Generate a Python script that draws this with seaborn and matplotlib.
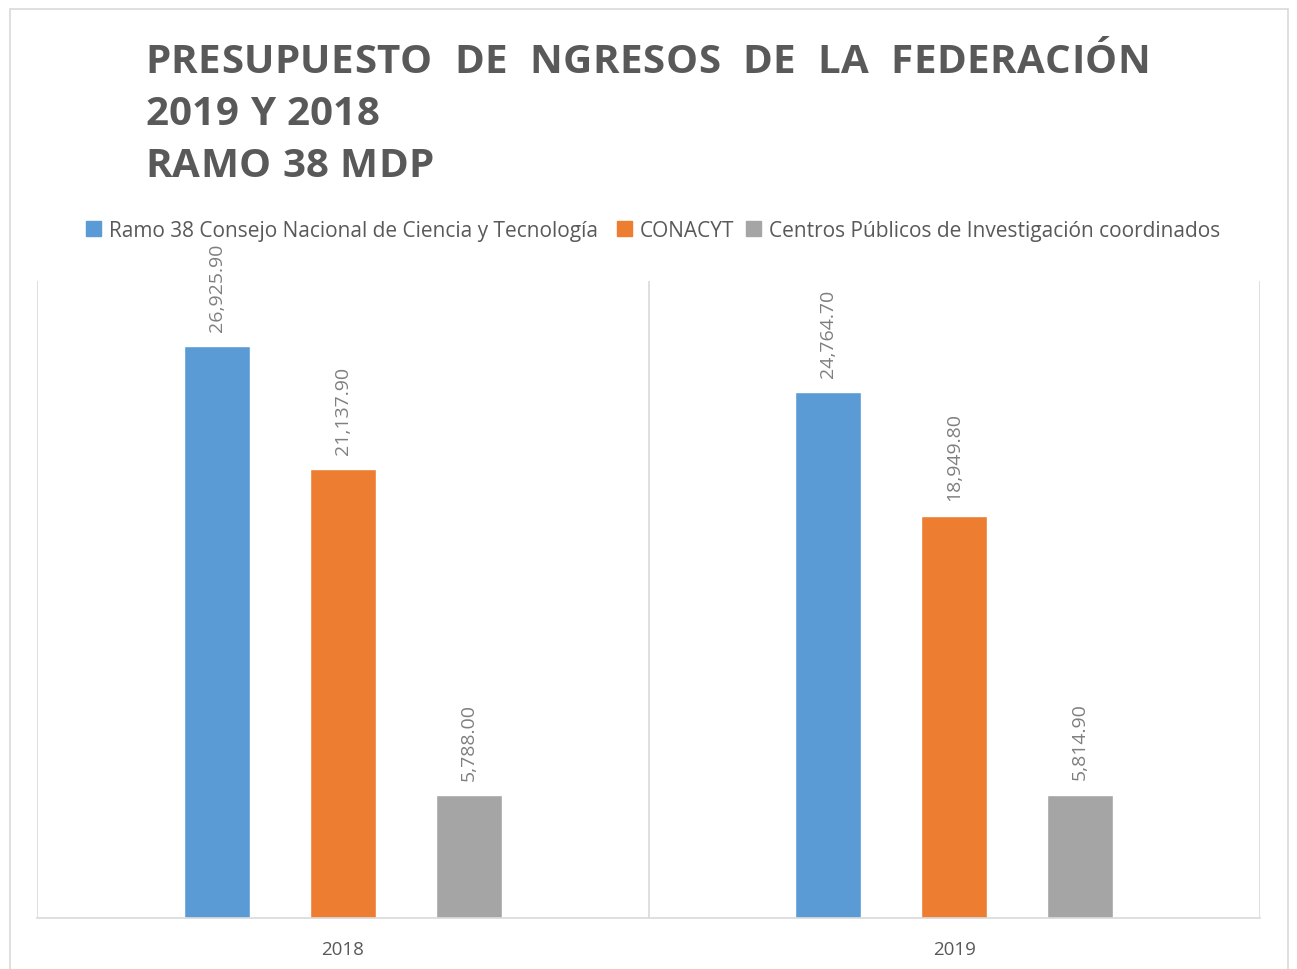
import numpy as np
import pandas as pd
import matplotlib.pyplot as plt
import seaborn as sns
from matplotlib.patches import Rectangle

# --- Data ---
years = ['2018', '2019']
series = ['Ramo 38 Consejo Nacional de Ciencia y Tecnología', 'CONACYT',
          'Centros Públicos de Investigación coordinados']
ramo38 = [26925.90, 24764.70]
conacyt = [21137.90, 18949.80]
centros = [5788.00, 5814.90]
colors = ['#5B9BD5', '#ED7D31', '#A5A5A5']
title_lines = ['PRESUPUESTO  DE  NGRESOS  DE  LA  FEDERACIÓN', '2019 Y 2018', 'RAMO 38 MDP']

df = pd.DataFrame({
    'year': years * 3,
    'serie': [series[0]] * 2 + [series[1]] * 2 + [series[2]] * 2,
    'valor': ramo38 + conacyt + centros,
})

W, H = 1297, 970
sns.set_style('white')
plt.rcParams['font.family'] = ['Open Sans', 'DejaVu Sans']

fig = plt.figure(figsize=(W / 100, H / 100), dpi=100)
ax = fig.add_axes([37 / W, 51 / H, 1223 / W, 637 / H])

sns.barplot(data=df, x='year', y='valor', hue='serie', hue_order=series,
            palette=colors, width=0.618, gap=0.476, saturation=1,
            errorbar=None, ax=ax, legend=False)

# --- Labels ---
for cont in ax.containers:
    ax.bar_label(cont, labels=[f'{v:,.2f}' for v in cont.datavalues],
                 rotation=90, padding=11, color='#7F7F7F', fontsize=14)

ax.set_ylim(0, 30000)
ax.set_xlim(-0.5, 1.5)
ax.set_xlabel('')
ax.set_ylabel('')
ax.set_yticks([])
ax.tick_params(axis='x', length=0, pad=16, labelsize=13.5, labelcolor='#595959')
for s in ['top', 'left', 'right']:
    ax.spines[s].set_visible(False)
ax.spines['bottom'].set_color('#D9D9D9')
ax.spines['bottom'].set_linewidth(1.2)
for xv in [-0.5, 0.5, 1.5]:
    ax.axvline(xv, color='#D9D9D9', lw=1.2, zorder=0)

# --- Legend: one entry each, anchored at the bottom so baselines line up ---
legend_x = [86, 617, 746]
for name, c, lx in zip(series, colors, legend_x):
    leg = fig.legend([Rectangle((0, 0), 1, 1, color=c)], [name], loc='lower left',
                     bbox_to_anchor=(lx / W, 1 - 242 / H), frameon=False,
                     fontsize=15, labelcolor='#595959', borderpad=0, borderaxespad=0,
                     handlelength=0.7, handleheight=0.7, handletextpad=0.4)

# --- Title (letter spaced, drawn char by char) ---
renderer = fig.canvas.get_renderer()
tkw = dict(fontsize=29, fontweight='bold', color='#595959')


def char_width(ch):
    if ch == ' ':
        a = fig.text(0, 0, 'x x', **tkw)
        b = fig.text(0, 0, 'xx', **tkw)
        w = a.get_window_extent(renderer).width - b.get_window_extent(renderer).width
        a.remove(); b.remove()
        return w
    t = fig.text(0, 0, ch, **tkw)
    w = t.get_window_extent(renderer).width
    t.remove()
    return w


widths0 = [char_width(c) for c in title_lines[0]]
spacing = (1005 - sum(widths0)) / (len(title_lines[0]) - 1)
baselines = [73, 125, 177]
for line, yb in zip(title_lines, baselines):
    x = 145
    for ch in line:
        w = char_width(ch)
        if ch != ' ':
            fig.text(x / W, 1 - yb / H, ch, ha='left', va='baseline', **tkw)
        x += w + spacing

# outer chart border
fig.patches.append(Rectangle((10 / W, -0.01), 1278 / W, 1 - 10 / H + 0.01,
                             transform=fig.transFigure, fill=False,
                             edgecolor='#D9D9D9', lw=1.2))

fig.savefig('out.png', dpi=100)
